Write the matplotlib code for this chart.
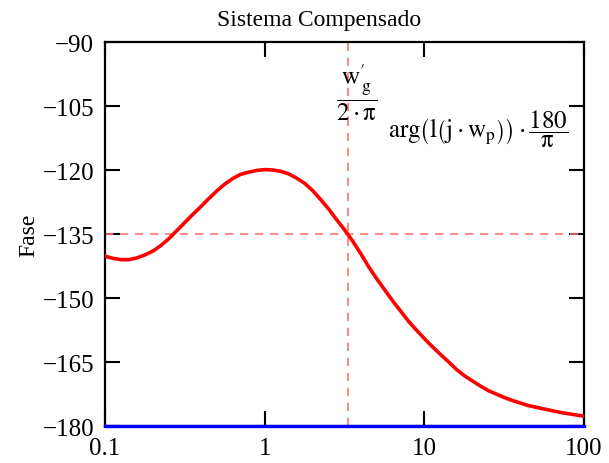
import matplotlib
matplotlib.use("Agg")
import matplotlib.pyplot as plt

#------
#font setup
plt.rcParams['font.family'] = ['Liberation Serif', 'DejaVu Serif']
plt.rcParams['mathtext.fontset'] = 'stix'

#------
#phase of the compensated loop (degrees) vs frequency (Hz)
freq = [0.1, 0.1122, 0.1259, 0.1413, 0.1585, 0.1778, 0.1995, 0.2239, 0.2512, 0.2818,
        0.3162, 0.3548, 0.3981, 0.4467, 0.5012, 0.5623, 0.631, 0.7079, 0.7943, 0.8913,
        1.0, 1.122, 1.259, 1.413, 1.585, 1.778, 1.995, 2.239, 2.512, 2.818,
        3.162, 3.548, 3.981, 4.467, 5.012, 5.623, 6.31, 7.079, 7.943, 8.913,
        10.0, 11.22, 12.59, 14.13, 15.85, 17.78, 19.95, 22.39, 25.12, 28.18,
        31.62, 35.48, 39.81, 44.67, 50.12, 56.23, 63.1, 70.79, 79.43, 89.13, 100.0]
phase = [-140.2, -140.7, -141.0, -141.0, -140.6, -139.9, -139.0, -137.7, -136.1, -134.2,
         -132.3, -130.4, -128.6, -126.7, -124.9, -123.3, -122.0, -121.0, -120.5, -120.1,
         -119.9, -120.0, -120.3, -120.9, -121.9, -123.1, -124.8, -126.9, -129.1, -131.6,
         -134.0, -136.6, -139.5, -142.6, -145.4, -148.0, -150.6, -153.0, -155.4, -157.5,
         -159.5, -161.4, -163.2, -164.9, -166.7, -168.2, -169.4, -170.6, -171.7, -172.5,
         -173.3, -174.0, -174.6, -175.2, -175.6, -176.0, -176.4, -176.8, -177.1, -177.4, -177.7]

#gain crossover frequency (Hz) and reference phases
wg_hz = 3.31
pm_ref = -135
ref_180 = -180

yticks = [-90, -105, -120, -135, -150, -165, -180]
xticks = [0.1, 1, 10, 100]
xticklabels = ['0.1', '1', '10', '100']

#------
#plot
fig = plt.figure(figsize=(6.09, 4.64), dpi=100)
ax = fig.add_axes([0.1724, 0.0797, 0.7866, 0.8276])

ax.plot(freq, phase, color=(1, 0, 0), lw=2.6, zorder=3)
ax.plot([xticks[0], xticks[-1]], [ref_180, ref_180], color=(0, 0, 1), lw=2.4,
        clip_on=False, zorder=4)
ax.axhline(pm_ref, color=(1, 0.45, 0.45), lw=1.2, ls=(0, (5, 4)), zorder=2)
ax.axvline(wg_hz, color=(1, 0.45, 0.45), lw=1.2, ls=(0, (5, 4)), zorder=2)

ax.set_xscale('log')
ax.set_xlim(0.1, 100)
ax.set_ylim(-180, -90)
ax.set_xticks(xticks)
ax.set_xticklabels(xticklabels)
ax.set_yticks(yticks)
ax.set_yticklabels(['\u2212' + str(-v) for v in yticks])
ax.minorticks_off()

ax.tick_params(direction='in', length=11, width=1.5, labelsize=18,
               top=True, right=True, pad=8)
ax.tick_params(axis='y', pad=8)
for sp in ax.spines.values():
    sp.set_linewidth(1.6)

fig.text(0.524, 0.955, 'Sistema Compensado', fontsize=17, ha='center', va='center')
ax.set_ylabel('Fase', fontsize=17, labelpad=2)

#trace labels
ax.text(0.525, 0.87, r"$\dfrac{\mathrm{w}^{\prime}_{\,\mathrm{g}}}{2\cdot\mathrm{\pi}}$",
        transform=ax.transAxes, ha='center', va='center', fontsize=18)
ax.text(0.78, 0.775,
        r"$\mathrm{arg}\left(\mathrm{l}\left(\mathrm{j}\cdot\mathrm{w}_{\mathrm{p}}\right)\right)\cdot\dfrac{180}{\mathrm{\pi}}$",
        transform=ax.transAxes, ha='center', va='center', fontsize=18)

fig.savefig('out.png', dpi=100)
